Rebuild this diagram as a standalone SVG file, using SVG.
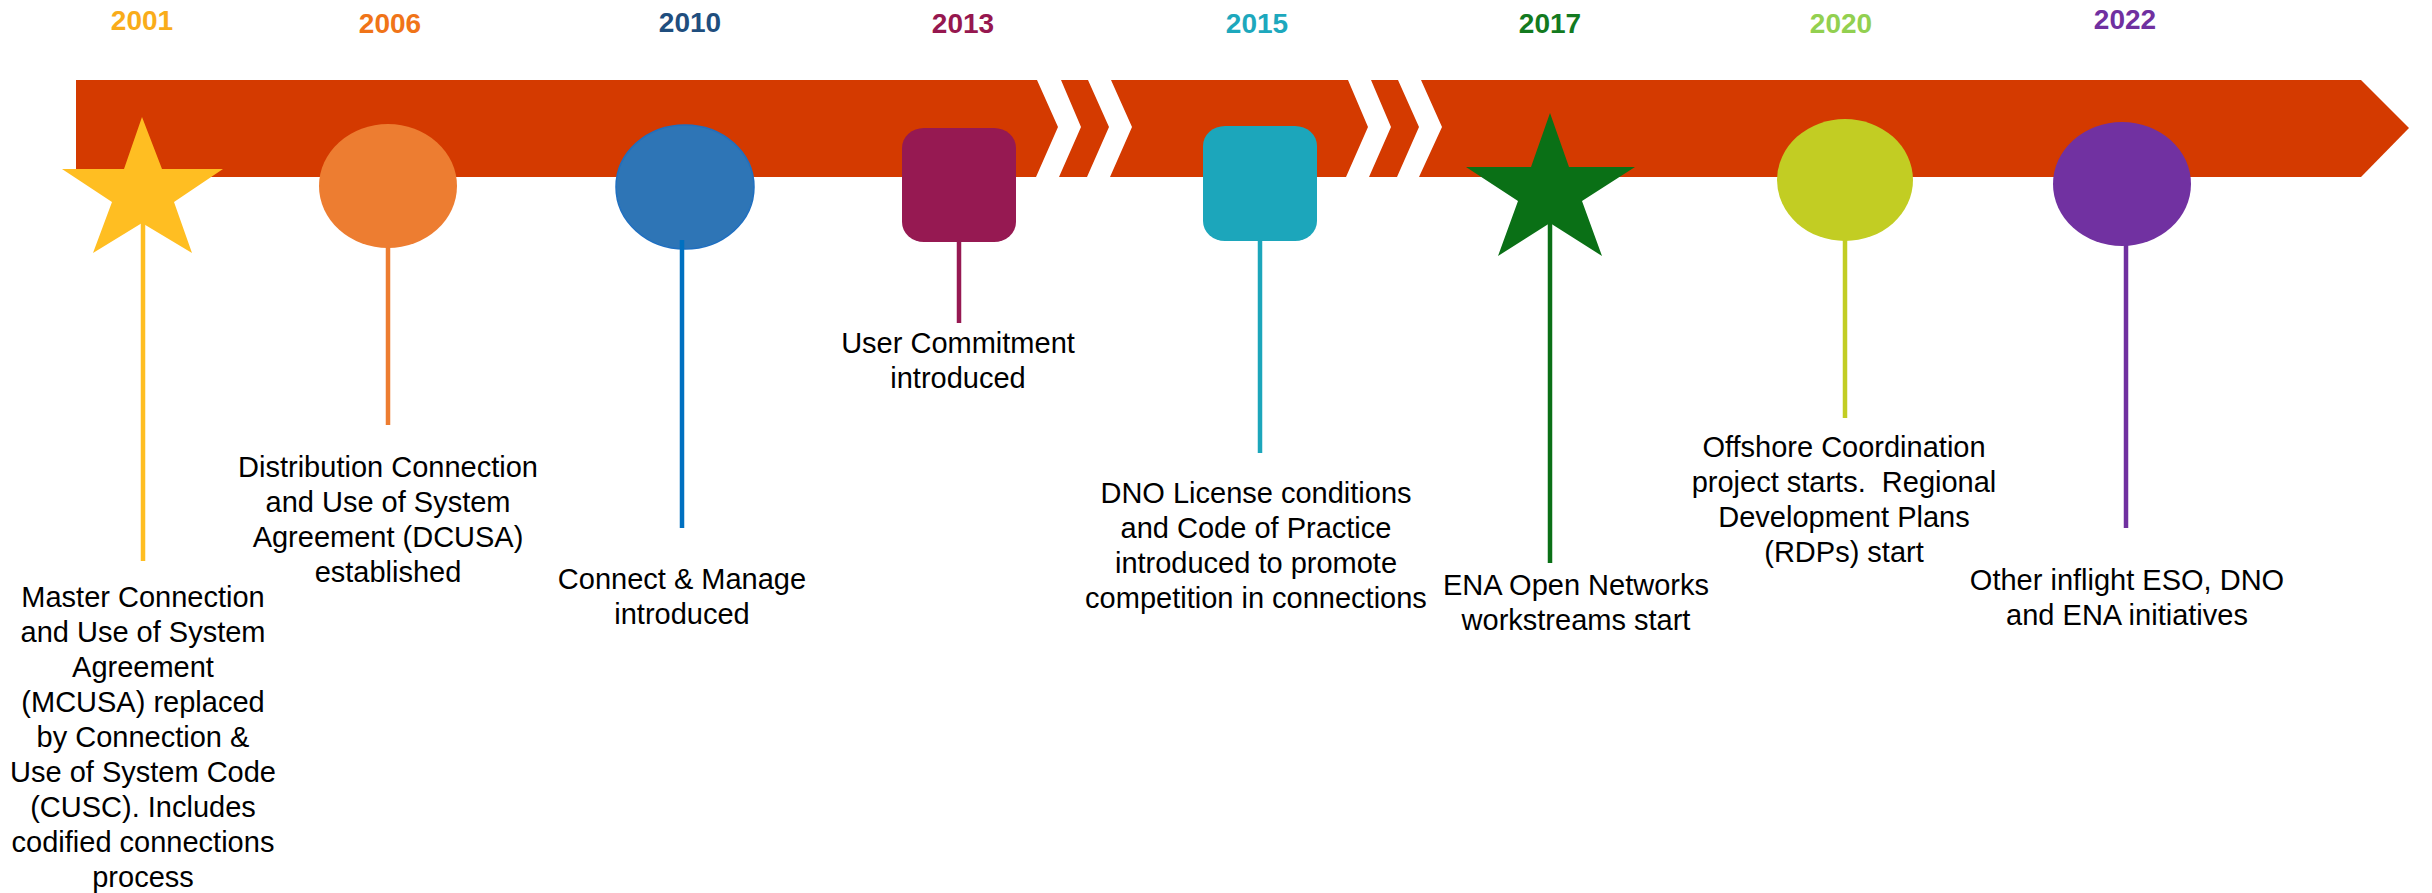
<svg xmlns="http://www.w3.org/2000/svg" width="2432" height="893" viewBox="0 0 2432 893">
<style>
.yr{font-family:"Liberation Sans",Arial,sans-serif;font-weight:bold;font-size:28px;text-anchor:middle}
.lbl{font-family:"Liberation Sans",Arial,sans-serif;font-size:29px;fill:#000;text-anchor:middle}
.stem{stroke-width:4.5;fill:none}
.gap{fill:#fff}
</style>
<rect width="2432" height="893" fill="#fff"/>
<g id="timeline-arrow">
<polygon points="76,80 2361,80 2409,128 2361,177 76,177" fill="#D43A00"/>
<polygon class="gap" points="1037,80 1061,80 1081,127 1059,177 1036,177 1058,127"/>
<polygon class="gap" points="1088,80 1111,80 1132,127 1110,177 1087,177 1109,127"/>
<polygon class="gap" points="1348,80 1371,80 1391,127 1369,177 1346,177 1368,127"/>
<polygon class="gap" points="1398,80 1421,80 1442,127 1419,177 1397,177 1419,127"/>
</g>
<g id="node-2001">
<text class="yr" x="142" y="30" fill="#F9AC1A">2001</text>
<polygon points="142,117 162,169 223,169 174,202 192,253 142,223 93,253 112,202 62,169 124,169" fill="#FFBE22"/>
<text class="lbl" x="143" y="607">Master Connection<tspan x="143" dy="35">and Use of System</tspan><tspan x="143" dy="35">Agreement</tspan><tspan x="143" dy="35">(MCUSA) replaced</tspan><tspan x="143" dy="35">by Connection &amp;</tspan><tspan x="143" dy="35">Use of System Code</tspan><tspan x="143" dy="35">(CUSC). Includes</tspan><tspan x="143" dy="35">codified connections</tspan><tspan x="143" dy="35">process</tspan></text>
</g>
<g id="node-2006">
<text class="yr" x="390" y="33" fill="#F07418">2006</text>
<ellipse cx="388" cy="186" rx="69" ry="62" fill="#ED7D31"/>
<text class="lbl" x="388" y="477">Distribution Connection<tspan x="388" dy="35">and Use of System</tspan><tspan x="388" dy="35">Agreement (DCUSA)</tspan><tspan x="388" dy="35">established</tspan></text>
</g>
<g id="node-2010">
<text class="yr" x="690" y="32" fill="#1F4E7E">2010</text>
<ellipse cx="685" cy="187" rx="69" ry="62" fill="#2E75B6" stroke="#1F6FC0" stroke-width="1.5"/>
<text class="lbl" x="682" y="589">Connect &amp; Manage<tspan x="682" dy="35">introduced</tspan></text>
</g>
<g id="node-2013">
<text class="yr" x="963" y="33" fill="#96174F">2013</text>
<rect x="902" y="128" width="114" height="114" rx="22" ry="20" fill="#961952"/>
<text class="lbl" x="958" y="353">User Commitment<tspan x="958" dy="35">introduced</tspan></text>
</g>
<g id="node-2015">
<text class="yr" x="1257" y="33" fill="#1DA8BD">2015</text>
<rect x="1203" y="126" width="114" height="115" rx="22" ry="20" fill="#1CA6BB"/>
<text class="lbl" x="1256" y="503">DNO License conditions<tspan x="1256" dy="35">and Code of Practice</tspan><tspan x="1256" dy="35">introduced to promote</tspan><tspan x="1256" dy="35">competition in connections</tspan></text>
</g>
<g id="node-2017">
<text class="yr" x="1550" y="33" fill="#137A1F">2017</text>
<polygon points="1550,113 1569,167 1635,167 1582,201 1602,256 1550,223 1498,256 1518,201 1466,167 1531,167" fill="#0A7016"/>
<text class="lbl" x="1576" y="595">ENA Open Networks<tspan x="1576" dy="35">workstreams start</tspan></text>
</g>
<g id="node-2020">
<text class="yr" x="1841" y="33" fill="#92D050">2020</text>
<ellipse cx="1845" cy="180" rx="68" ry="61" fill="#C2CD23"/>
<text class="lbl" x="1844" y="457">Offshore Coordination<tspan x="1844" dy="35">project starts.&#160; Regional</tspan><tspan x="1844" dy="35">Development Plans</tspan><tspan x="1844" dy="35">(RDPs) start</tspan></text>
</g>
<g id="node-2022">
<text class="yr" x="2125" y="29" fill="#7030A0">2022</text>
<ellipse cx="2122" cy="184" rx="69" ry="62" fill="#7131A1"/>
<text class="lbl" x="2127" y="590">Other inflight ESO, DNO<tspan x="2127" dy="35">and ENA initiatives</tspan></text>
</g>
<g id="connectors">
<line class="stem" x1="143" y1="222" x2="143" y2="561" stroke="#FFBE22"/>
<line class="stem" x1="388" y1="247" x2="388" y2="425" stroke="#ED7D31"/>
<line class="stem" x1="682" y1="240" x2="682" y2="528" stroke="#0070C0"/>
<line class="stem" x1="959" y1="241" x2="959" y2="323" stroke="#961952"/>
<line class="stem" x1="1260" y1="240" x2="1260" y2="453" stroke="#1CA6BB"/>
<line class="stem" x1="1550" y1="222" x2="1550" y2="563" stroke="#0A7016"/>
<line class="stem" x1="1845" y1="240" x2="1845" y2="418" stroke="#C2CD23"/>
<line class="stem" x1="2126" y1="245" x2="2126" y2="528" stroke="#7030A0"/>
</g>
</svg>
